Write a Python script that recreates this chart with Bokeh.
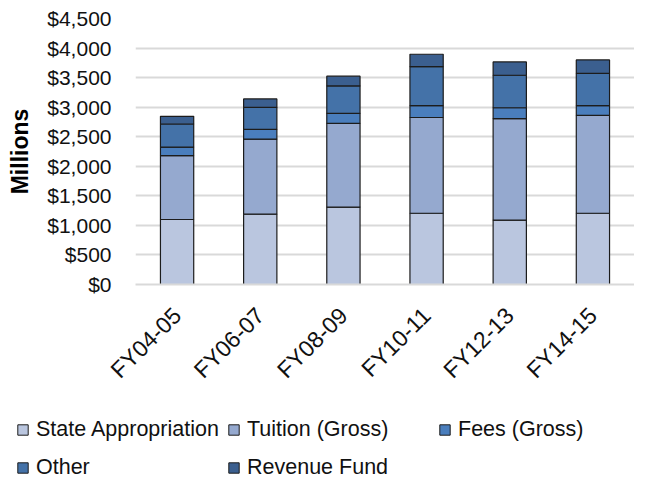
from bokeh.plotting import figure
from bokeh.layouts import column
from bokeh.models import (Legend, LegendItem, NumeralTickFormatter, FixedTicker,
                          Range1d, FactorRange)
from bokeh.embed import file_html
from bokeh.resources import INLINE
import math

categories = ["FY04-05", "FY06-07", "FY08-09", "FY10-11", "FY12-13", "FY14-15"]
series_names = ["State Appropriation", "Tuition (Gross)", "Fees (Gross)", "Other", "Revenue Fund"]
state_appropriation = [1100, 1190, 1310, 1205, 1090, 1205]
tuition_gross = [1080, 1270, 1415, 1620, 1715, 1655]
fees_gross = [145, 165, 170, 200, 185, 165]
other = [390, 370, 465, 660, 550, 545]
revenue_fund = [130, 145, 165, 210, 225, 230]
y_ticks = [0, 500, 1000, 1500, 2000, 2500, 3000, 3500, 4000, 4500]

colors = ["#BAC6DF", "#95A9CF", "#4A7EBD", "#4472A8", "#3B5F8F"]
keys = ["s0", "s1", "s2", "s3", "s4"]
data = dict(cat=categories, s0=state_appropriation, s1=tuition_gross,
            s2=fees_gross, s3=other, s4=revenue_fund)

FONT = "Liberation Sans"
EDGE = "#1c1c1c"

p = figure(x_range=FactorRange(*categories), y_range=Range1d(0, 4500),
           width=634, height=395,
           min_border_top=18, min_border_left=135, min_border_right=0,
           min_border_bottom=111,
           output_backend="svg", toolbar_location=None)
p.outline_line_color = None

renderers = p.vbar_stack(keys, x="cat", width=0.4, source=data,
                         color=colors, line_color=EDGE, line_width=1.2)

# axes
p.yaxis.ticker = FixedTicker(ticks=y_ticks)
p.yaxis.formatter = NumeralTickFormatter(format="$0,0")
p.yaxis.axis_line_color = None
p.yaxis.major_tick_line_color = None
p.yaxis.minor_tick_line_color = None
p.yaxis.major_label_standoff = 18
p.yaxis.major_label_text_font = FONT
p.yaxis.major_label_text_font_size = "21px"
p.yaxis.major_label_text_color = "#111111"
p.yaxis.axis_label = "Millions"
p.yaxis.axis_label_text_font = FONT
p.yaxis.axis_label_text_font_size = "23px"
p.yaxis.axis_label_text_font_style = "bold"
p.yaxis.axis_label_text_color = "#000000"
p.yaxis.axis_label_standoff = 11

p.xaxis.axis_line_color = "#D9D9D9"
p.xaxis.axis_line_width = 2
p.xaxis.major_tick_line_color = None
p.xaxis.minor_tick_line_color = None
p.xaxis.major_label_orientation = math.pi / 4
p.xaxis.major_label_standoff = 21
p.xaxis.major_label_text_font = FONT
p.xaxis.major_label_text_font_size = "23px"
p.xaxis.major_label_text_color = "#111111"
p.xaxis.major_label_overrides = {c: c + "\u00a0\u00a0" for c in categories}

p.xgrid.grid_line_color = None
p.ygrid.grid_line_color = "#D9D9D9"
p.ygrid.grid_line_width = 2

# legend strip below the chart
lg = figure(width=634, height=88, x_range=Range1d(0, 1), y_range=Range1d(0, 1),
            min_border=0, x_axis_location=None, y_axis_location=None,
            output_backend="svg", toolbar_location=None)
lg.outline_line_color = None
lg.grid.visible = False
swatches = [lg.vbar(x=[5], top=[5], bottom=[4], width=0.1, fill_color=c,
                    line_color=EDGE, line_width=1) for c in colors]
items = [LegendItem(label=n, renderers=[r]) for n, r in zip(series_names, swatches)]
legend = Legend(items=items, orientation="horizontal", ncols=3,
                location=(16, 0),
                label_text_font=FONT, label_text_font_size="21.5px",
                label_text_color="#111111",
                glyph_width=13, glyph_height=13, label_standoff=7,
                label_width=184, label_height=31, spacing=7,
                padding=0, margin=0,
                border_line_color=None, background_fill_alpha=0)
lg.add_layout(legend, "center")

for f in (p, lg):
    if "frame_align" in f.properties():
        f.frame_align = False

layout = column(p, lg, spacing=0)
open("out.html", "w").write(file_html(layout, INLINE))
